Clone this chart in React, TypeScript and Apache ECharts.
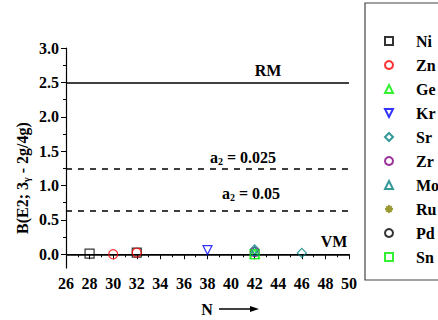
import React, { useEffect, useRef } from "react";
import * as echarts from "echarts";

const elements = ["Ni", "Zn", "Ge", "Kr", "Sr", "Zr", "Mo", "Ru", "Pd", "Sn"];
const colors = ["#000000", "#ff0000", "#00ee00", "#0000ff", "#008080", "#800080", "#008080", "#808000", "#000000", "#00ee00"];
const symbols = [
  "rect",
  "circle",
  "triangle",
  "path://M0,0 L10,0 L5,10 Z",
  "diamond",
  "circle",
  "triangle",
  "path://M5,0 L5,10 M0,5 L10,5 M1.5,1.5 L8.5,8.5 M8.5,1.5 L1.5,8.5",
  "circle",
  "rect",
];
const pointsNi = [[28, 0.01], [32, 0.025]];
const pointsZn = [[30, 0.0], [32, 0.025]];
const pointsGe = [[42, 0.0]];
const pointsKr = [[38, 0.06]];
const pointsSr = [[42, 0.07], [46, 0.02]];
const pointsZr = [[42, 0.03]];
const pointsMo = [[42, 0.05]];
const pointsRu: number[][] = [];
const pointsPd: number[][] = [];
const pointsSn = [[42, 0.0]];
const seriesPoints = [pointsNi, pointsZn, pointsGe, pointsKr, pointsSr, pointsZr, pointsMo, pointsRu, pointsPd, pointsSn];

const yTickValues = [0, 0.5, 1.0, 1.5, 2.0, 2.5, 3.0];
const yMinorValues = [0.25, 0.75, 1.25, 1.75, 2.25, 2.75];
const limitRM = 2.5;
const limitA025 = 1.25;
const limitA05 = 0.625;
const limitVM = 0;

const FONT = "Liberation Serif";

export default function App() {
  const ref = useRef<HTMLDivElement>(null);
  useEffect(() => {
    if (!ref.current) return;
    const chart = echarts.init(ref.current, null, { renderer: "svg" });
    const series: any[] = elements.map((name, i) => ({
      name,
      type: "scatter",
      data: seriesPoints[i],
      symbol: symbols[i],
      symbolSize: 9,
      itemStyle: { color: "rgba(0,0,0,0)", borderColor: colors[i], borderWidth: 1.2 },
      z: 5,
    }));
    series.push({
      name: "lines",
      type: "line",
      data: [],
      markLine: {
        silent: true,
        symbol: "none",
        label: { show: false },
        lineStyle: { color: "#000", width: 1.5, type: "solid" },
        data: [
          { yAxis: limitRM },
          { yAxis: limitVM },
          { yAxis: limitA025, lineStyle: { type: [6, 6], width: 1.5, color: "#000" } },
          { yAxis: limitA05, lineStyle: { type: [6, 6], width: 1.5, color: "#000" } },
        ],
      },
    });
    const sub = { fontFamily: FONT, fontWeight: "bold", fontSize: 10, lineHeight: 9, verticalAlign: "bottom" };
    const norm = { fontFamily: FONT, fontWeight: "bold", fontSize: 16, lineHeight: 18 };
    chart.setOption({
      animation: false,
      backgroundColor: "#fff",
      grid: { left: 66, right: 89, top: 48, bottom: 52 },
      xAxis: {
        type: "value",
        min: 26,
        max: 50,
        interval: 2,
        axisLine: { lineStyle: { color: "#000", width: 1.2 } },
        axisTick: { length: 5, lineStyle: { color: "#000" } },
        minorTick: { show: true, splitNumber: 2, length: 3, lineStyle: { color: "#000" } },
        splitLine: { show: false },
        axisLabel: { color: "#000", fontFamily: FONT, fontWeight: "bold", fontSize: 16, margin: 7 },
      },
      yAxis: [
        {
          type: "value",
          min: -0.2,
          max: 3.0,
          axisLine: { show: true, lineStyle: { color: "#000", width: 1.2 } },
          axisTick: { show: true, length: 5, customValues: yTickValues, lineStyle: { color: "#000" } },
          splitLine: { show: false },
          axisLabel: {
            customValues: yTickValues,
            color: "#000",
            fontFamily: FONT,
            fontWeight: "bold",
            fontSize: 16,
            margin: 7,
            formatter: (v: number) => v.toFixed(1),
          },
        },
        {
          type: "value",
          min: -0.2,
          max: 3.0,
          position: "left",
          axisLine: { show: false },
          axisTick: { show: true, length: 3, customValues: yMinorValues, lineStyle: { color: "#000" } },
          splitLine: { show: false },
          axisLabel: { show: false },
        },
      ],
      legend: {
        orient: "vertical",
        left: 379,
        top: 27,
        itemWidth: 8,
        itemHeight: 8,
        itemGap: 6,
        data: elements,
        textStyle: { fontFamily: FONT, fontWeight: "bold", fontSize: 16, color: "#000", lineHeight: 18, padding: [0, 0, 0, 18] },
      },
      graphic: [
        { type: "rect", shape: { x: 365, y: 3, width: 100, height: 277 }, style: { fill: "none", stroke: "#444", lineWidth: 1.2 }, silent: true },
        { type: "text", x: 268, y: 70, style: { text: "RM", font: `bold 16px ${FONT}`, fill: "#000", align: "center", verticalAlign: "middle" } },
        { type: "text", x: 334, y: 241, style: { text: "VM", font: `bold 16px ${FONT}`, fill: "#000", align: "center", verticalAlign: "middle" } },
        {
          type: "text", x: 243, y: 157,
          style: { text: "{n|a}{s|2}{n| = 0.025}", rich: { n: norm, s: sub }, fill: "#000", align: "center", verticalAlign: "middle" },
        },
        {
          type: "text", x: 251, y: 193,
          style: { text: "{n|a}{s|2}{n| = 0.05}", rich: { n: norm, s: sub }, fill: "#000", align: "center", verticalAlign: "middle" },
        },
        {
          type: "text", x: 22, y: 178, rotation: Math.PI / 2,
          style: { text: "{n|B(E2; 3}{s|γ}{n| - 2g/4g)}", rich: { n: norm, s: sub }, fill: "#000", align: "center", verticalAlign: "middle" },
        },
        { type: "text", x: 207, y: 309, style: { text: "N", font: `bold 16px ${FONT}`, fill: "#000", align: "center", verticalAlign: "middle" } },
        { type: "line", shape: { x1: 219, y1: 309, x2: 252, y2: 309 }, style: { stroke: "#000", lineWidth: 1.5 } },
        { type: "polygon", shape: { points: [[259, 309], [250, 306], [250, 312]] }, style: { fill: "#000" } },
      ],
      series,
    });
    return () => chart.dispose();
  }, []);
  return <div ref={ref} style={{ width: 438, height: 320, position: "absolute", left: 0, top: 0 }} />;
}
